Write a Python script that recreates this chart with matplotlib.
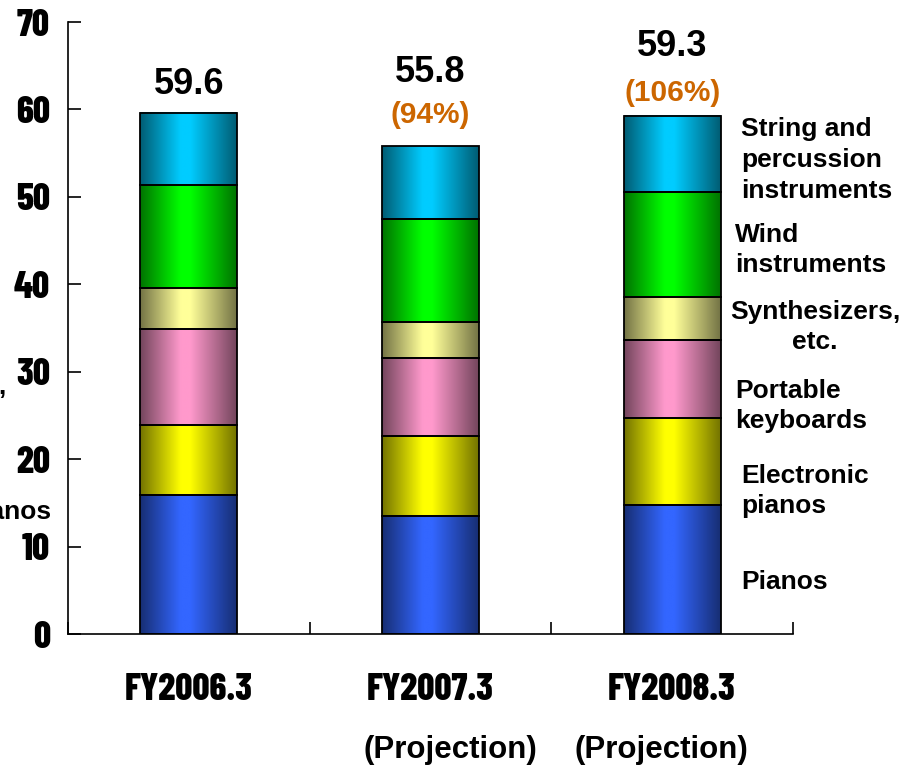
import numpy as np
import matplotlib
matplotlib.use("Agg")
import matplotlib.pyplot as plt
from matplotlib import colors as mcolors
from matplotlib import font_manager as fm

# Musical instrument sales by category (billion yen)
periods = ["FY2006.3", "FY2007.3", "FY2008.3"]
sub_labels = ["", "(Projection)", "(Projection)"]
categories = ["Pianos", "Electronic\npianos", "Portable\nkeyboards",
              "Synthesizers,\netc.", "Wind\ninstruments",
              "String and\npercussion\ninstruments"]
pianos = [15.9, 13.5, 14.8]
electronic_pianos = [8.0, 9.1, 9.9]
portable_keyboards = [11.0, 9.0, 8.9]
synthesizers = [4.7, 4.1, 5.0]
wind_instruments = [11.7, 11.8, 11.9]
string_percussion = [8.3, 8.3, 8.8]
totals = [59.6, 55.8, 59.3]
yoy_pct = [None, "(94%)", "(106%)"]
yticks = [0, 10, 20, 30, 40, 50, 60, 70]

series = [pianos, electronic_pianos, portable_keyboards,
          synthesizers, wind_instruments, string_percussion]
base_colors = ["#3366FF", "#FFFF00", "#FF99CC", "#FFFF99", "#00FF00", "#00CCFF"]

# pick a narrow sans face for the axis numbers and period labels
installed = {f.name for f in fm.fontManager.ttflist}
narrow_pref = ["Liberation Sans Narrow", "Arial Narrow", "Nimbus Sans Narrow",
               "Barlow Condensed", "Roboto Condensed", "Fira Sans Condensed"]
narrow = [n for n in narrow_pref if n in installed][:1] + ["Liberation Sans", "DejaVu Sans"]
arial = ["Liberation Sans", "DejaVu Sans"]

W, H = 913, 768
fig = plt.figure(figsize=(W / 100, H / 100), dpi=100)
ax = fig.add_axes([68 / W, 1 - 634 / H, (793 - 68) / W, (634 - 22) / H])

x = np.arange(len(periods))
width = 0.40

# horizontal shading: dark at both edges, brightest just left of centre
t = np.linspace(0, 1, 256)
profile = np.interp(t, [0, 0.42, 0.52, 1], [0.45, 1.0, 1.0, 0.45])

bottom = np.zeros(len(periods))
for vals, col in zip(series, base_colors):
    vals = np.array(vals)
    rgb = np.array(mcolors.to_rgb(col))
    bars = ax.bar(x, vals, width, bottom=bottom, facecolor="none",
                  edgecolor="black", linewidth=1.3, zorder=3)
    for b in bars:
        x0, y0 = b.get_x(), b.get_y()
        img = (profile[:, None] * rgb[None, :])[None, :, :]
        ax.imshow(img, extent=[x0, x0 + b.get_width(), y0, y0 + b.get_height()],
                  aspect="auto", zorder=2, interpolation="bilinear")
    bottom += vals

ax.set_xlim(-0.5, len(periods) - 0.5)
ax.set_ylim(0, 70)
ax.set_yticks(yticks)
ax.set_yticklabels([str(v) for v in yticks], family=narrow,
                   fontsize=27, fontweight=800)
ax.set_xticks(np.arange(len(periods) + 1) - 0.5)
ax.set_xticklabels([])
ax.tick_params(axis="both", direction="in", length=9, width=1.2, color="black")
ax.tick_params(axis="y", pad=13)
for side in ["top", "right"]:
    ax.spines[side].set_visible(False)
for side in ["left", "bottom"]:
    ax.spines[side].set_linewidth(1.2)

# period labels under the bars
for xi, name in zip(x, periods):
    ax.text(xi, -0.092, name, transform=ax.get_xaxis_transform(),
            ha="center", va="center", family=narrow, fontsize=27,
            fontweight=800)
sub_pos = [None, 450, 661]
for sp, s in zip(sub_pos, sub_labels):
    if s:
        fig.text(sp / W, 1 - 750 / H, s, ha="center", va="center",
                 family=arial, fontsize=22.5, fontweight="bold")

# totals and year-on-year ratio above the bars (offsets in pixels)
total_off = [28, 74, 69]
pct_off = [None, 31, 23]
for xi, tot, pct, to, po in zip(x, totals, yoy_pct, total_off, pct_off):
    if pct:
        ax.annotate(pct, (xi, tot), xytext=(0, po * 0.72),
                    textcoords="offset points", ha="center", va="center",
                    family=arial, fontsize=21.5, fontweight="bold",
                    color="#CC6600")
    ax.annotate(f"{tot:.1f}", (xi, tot), xytext=(0, to * 0.72),
                textcoords="offset points", ha="center", va="center",
                family=arial, fontsize=26, fontweight="bold")

# series names beside the last bar
label_pos = [(741, 582, "left"), (741, 491, "left"), (735, 406, "left"),
             (815, 327, "center"), (735, 250, "left"), (741, 160, "left")]
for (px, py, ha), name in zip(label_pos, categories):
    fig.text(px / W, 1 - py / H, name, ha=ha, va="center",
             multialignment=ha, family=arial, fontsize=19,
             fontweight="bold", linespacing=1.35)

# series names beside the first bar, running off the left edge
fig.text(6 / W, 1 - 387 / H, "Synthesizers,", ha="right", va="center",
         family=arial, fontsize=19, fontweight="bold")
fig.text(51 / W, 1 - 512 / H, "pianos", ha="right", va="center",
         family=arial, fontsize=19, fontweight="bold")

fig.savefig("out.png", dpi=100)
